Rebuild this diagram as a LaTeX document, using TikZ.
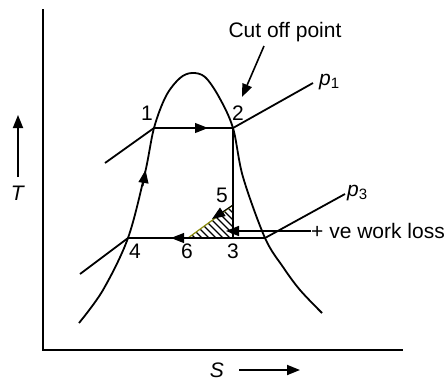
\documentclass[tikz,border=0pt]{standalone}
\usepackage{fontspec}
\setmainfont{Liberation Sans}
\usetikzlibrary{arrows.meta}
\definecolor{hatchedge}{rgb}{0.55,0.55,0.05}
\tikzset{
  curve/.style={line width=1.8pt},
  axisline/.style={line width=2.3pt},
  tip/.style={-{Triangle[length=13pt,width=10pt]}},
  lbl/.style={inner sep=0pt, font=\fontsize{21}{25}\selectfont},
}
\begin{document}
\begin{tikzpicture}[x=1pt,y=-1pt]
\useasboundingbox (0,0) rectangle (447,381);
% axes
\draw[axisline] (43,9) -- (43,350) -- (403,350);
% points
\coordinate (P1) at (154,128);
\coordinate (P2) at (233,128);
\coordinate (P3) at (233,238);
\coordinate (P4) at (128,238);
\coordinate (P5) at (233,205);
\coordinate (P6) at (188,238);
\coordinate (R3) at (265,238);
\coordinate (P1L) at (105,163);
\coordinate (P1R) at (313,83);
\coordinate (P3L) at (80,274);
\coordinate (P3R) at (345,194);
% hatched triangle
\begin{scope}
\clip (P5) -- (P6) -- (P3) -- cycle;
\foreach \c in {-50,-43,...,30} \draw[line width=1.4pt] (\c+190,190) -- (\c+250,250);
\end{scope}
\draw[line width=1.2pt, hatchedge] (P5) -- (P6) -- (P3) -- cycle;
% dome
\draw[curve] plot[smooth, tension=0.55] coordinates {(79,323) (103,290) (128,238) (145,173) (154,128) (166,96) (180,78) (192,73) (205,77) (219,97) (233,128) (243,177) (265,238) (283,267) (300,290) (322,313)};
% pressure lines
\draw[curve] (P1L) -- (P1) -- (P2) -- (P1R);
\draw[curve] (P3L) -- (P4) -- (R3) -- (P3R);
\draw[curve] (P2) -- (P3);
% direction arrows
\draw[tip, line width=1pt] (P1) -- (208,128);
\draw[tip, line width=1pt] (143,186) -- (145.5,170);
\draw[tip, line width=1pt] (R3) -- (171,238);
\draw[tip, line width=1pt] (P5) -- (212,219);
% labels
\node[lbl] (l1) at (147,113) {1};
\node[lbl] (l2) at (238,113) {2};
\node[lbl] (l5) at (222,195) {5};
\node[lbl] (l4) at (135,251) {4};
\node[lbl] (l6) at (187,251) {6};
\node[lbl] (l3) at (233,251) {3};
\node[lbl, anchor=west] (p1) at (319,82) {\textit{p}\raisebox{-0.3ex}{\fontsize{15}{17}\selectfont 1}};
\node[lbl, anchor=west] (p3) at (347,193) {\textit{p}\raisebox{-0.3ex}{\fontsize{15}{17}\selectfont 3}};
\node[lbl] (cut) at (285,32) {Cut off point};
\coordinate (cuttip) at (242,97);
\draw[tip, line width=1.6pt] (264,46) -- (cuttip);
\node[lbl, anchor=west] (loss) at (311,231) {+ ve work loss};
\coordinate (losstip) at (226,231);
\draw[tip, line width=1.6pt] (loss.west) -- (losstip);
% axis labels
\node[lbl] (T) at (18,193) {\textit{T}};
\draw[tip, line width=1.8pt] (18,177) -- (18,115);
\node[lbl] (S) at (217,370) {\textit{S}};
\draw[tip, line width=1.8pt] (239,370) -- (300,370);
\end{tikzpicture}
\end{document}
